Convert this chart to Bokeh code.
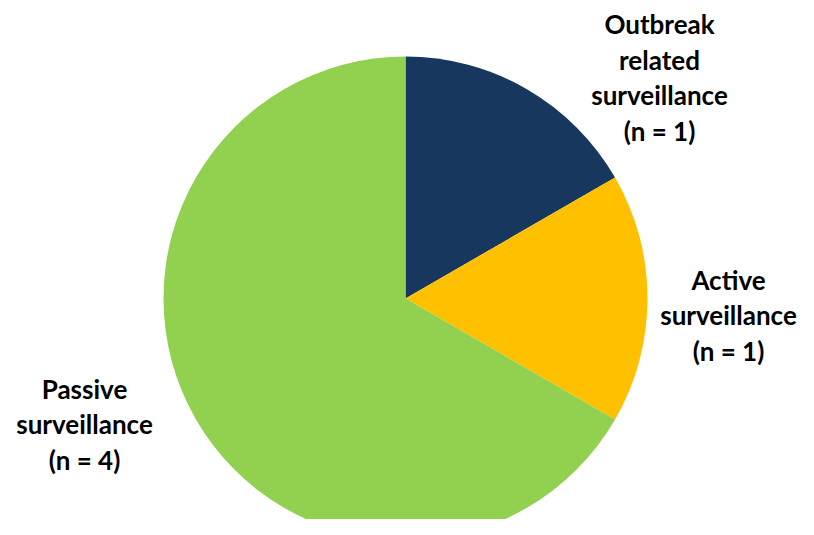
import numpy as np
from bokeh.plotting import figure
from bokeh.models import ColumnDataSource, Range1d
from bokeh.core.properties import value
from bokeh.embed import file_html
from bokeh.resources import INLINE

categories = ["Outbreak related surveillance", "Active surveillance", "Passive surveillance"]
counts = [1, 1, 4]
colors = ["#17375E", "#FFC000", "#92D050"]
labels = ["Outbreak\nrelated\nsurveillance\n(n = 1)", "Active\nsurveillance\n(n = 1)", "Passive\nsurveillance\n(n = 4)"]

W, H = 798, 519
p = figure(width=W, height=H, output_backend="svg", toolbar_location=None,
           x_range=Range1d(0, W), y_range=Range1d(0, H), min_border=0)
p.axis.visible = False
p.grid.visible = False
p.outline_line_color = None

vals = np.array(counts, dtype=float)
frac = vals / vals.sum()
ends = np.pi / 2 - np.cumsum(frac) * 2 * np.pi
starts = np.concatenate([[np.pi / 2], ends[:-1]])
cx, cy, r = 405, H - 298, 242
src = ColumnDataSource(dict(start=ends, end=starts, color=colors, cat=categories))
p.wedge(x=cx, y=cy, radius=r, start_angle="start", end_angle="end", direction="anticlock",
        fill_color="color", line_alpha=0, source=src)

lx = [659, 728, 84]
ly = [H - 77, H - 315, H - 424]
tsrc = ColumnDataSource(dict(x=lx, y=ly, t=labels))
p.text(x="x", y="y", text="t", source=tsrc, text_align="center", text_baseline="middle",
       text_font=value("Lato"), text_font_style="bold", text_font_size="26px",
       text_line_height=1.12, text_color="#000000")

open("out.html", "w").write(file_html(p, INLINE))
